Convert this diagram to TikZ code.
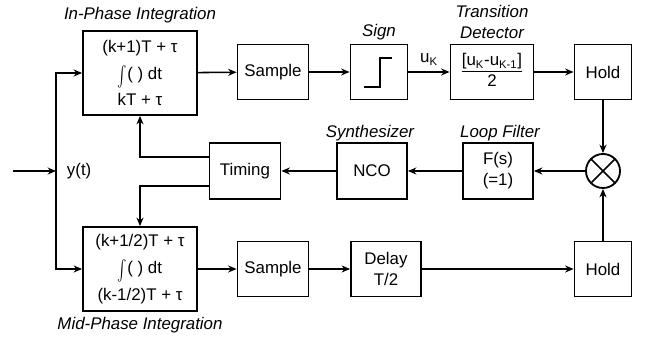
\documentclass[tikz,border=0pt]{standalone}
\usepackage{fontspec}
\setmainfont{Liberation Sans}
\usetikzlibrary{arrows.meta}
\setlength{\arrayrulewidth}{1pt}
\newcommand{\bigint}{\raisebox{-0.45ex}{\scalebox{1}[1.45]{$\int$}}}

\begin{document}
\begin{tikzpicture}[x=0.025cm,y=-0.025cm,font=\fontsize{12}{15}\selectfont]
\useasboundingbox (0,0) rectangle (646,339);
\begin{scope}[every node/.style={draw,line width=1.3pt,align=center,inner sep=0pt}]
    \node[minimum width=2.85cm,minimum height=2.1cm,font=\fontsize{12}{19}\selectfont] (integi) at (140,73)
        {(k+1)T + τ\\\smash{\bigint}( ) dt\\kT + τ};
    \node[minimum width=2.85cm,minimum height=2.1cm,font=\fontsize{12}{19}\selectfont] (integm) at (140,269)
        {(k+1/2)T + τ\\\smash{\bigint}( ) dt\\(k-1/2)T + τ};
    \node[minimum width=1.775cm,minimum height=1.375cm] (sampi) at (273,72) {Sample};
    \node[minimum width=1.775cm,minimum height=1.375cm] (sampm) at (273,269) {Sample};
    \node[minimum width=1.425cm,minimum height=1.375cm] (sign) at (379,72) {};
    \node[minimum width=2.075cm,minimum height=1.375cm] (trans) at (492,72)
        {\begin{tabular}{@{}c@{}}[u\textsubscript{K}-u\textsubscript{K-1}]\\[-1pt]\hline 2\end{tabular}};
    \node[minimum width=1.425cm,minimum height=1.375cm] (holdi) at (603,72) {Hold};
    \node[minimum width=1.425cm,minimum height=1.375cm] (holdm) at (603,269) {Hold};
    \node[minimum width=1.75cm,minimum height=1.375cm] (delay) at (386,269) {Delay\\T/2};
    \node[minimum width=1.775cm,minimum height=1.4cm] (timing) at (245,171) {Timing};
    \node[minimum width=1.75cm,minimum height=1.4cm] (nco) at (372,171) {NCO};
    \node[minimum width=1.75cm,minimum height=1.4cm] (loop) at (498,171) {F(s)\\(=1)};
    \node[circle,minimum size=0.85cm,path picture={
        \draw[line width=1.1pt] (path picture bounding box.north west) -- (path picture bounding box.south east)
            (path picture bounding box.north east) -- (path picture bounding box.south west);}] (mult) at (603,171) {};
\end{scope}
% step inside the sign block
\draw[line width=1.1pt] (sign.center) ++(-15,15) -- ++(16,0) -- ++(0,-29) -- ++(12,0);

\begin{scope}[every node/.style={font=\fontsize{12}{15}\selectfont\itshape,align=center}]
    \node (lbli) at (140,15) {In-Phase Integration};
    \node (lblm) at (140,325) {Mid-Phase Integration};
    \node (lblsign) at (379,32) {Sign};
    \node (lbltrans) at (492,22) {Transition\\Detector};
    \node (lblsynth) at (370,133) {Synthesizer};
    \node (lblloop) at (500,133) {Loop Filter};
\end{scope}

\coordinate (in) at (13,171);
\coordinate (split) at (56,171);
\node[right] (yt) at (62,171) {y(t)};

\begin{scope}[>={Stealth[length=6pt,width=5pt]},
              every edge/.style={draw,line width=1.1pt}]
    \path [->] (in) edge (split);
    \path [->] (integi) edge (sampi);
    \path [->] (sampi) edge (sign);
    \path [->] (sign) edge node[above=1pt] (uk) {u\textsubscript{K}} (trans);
    \path [->] (trans) edge (holdi);
    \path [->] (holdi) edge (mult);
    \path [->] (holdm) edge (mult);
    \path [->] (mult) edge (loop);
    \path [->] (loop) edge (nco);
    \path [->] (nco) edge (timing);
    \path [->] (integm) edge (sampm);
    \path [->] (sampm) edge (delay);
    \path [->] (delay) edge (holdm);
    \draw [->,line width=1.1pt] (split) |- (integi.west);
    \draw [->,line width=1.1pt] (split) |- (integm.west);
    \draw [->,line width=1.1pt] ([yshift=0.35cm]timing.west) -| (integi.south);
    \draw [->,line width=1.1pt] ([yshift=-0.375cm]timing.west) -| (integm.north);
\end{scope}

\end{tikzpicture}
\end{document}
